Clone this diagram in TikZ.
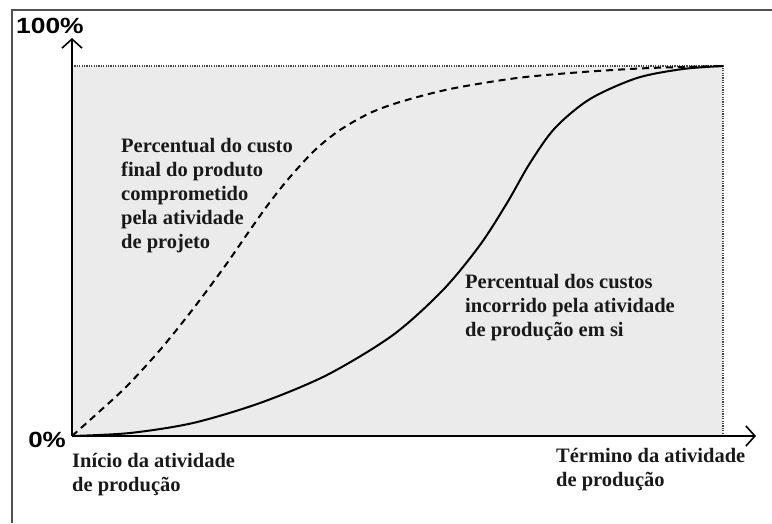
\documentclass[tikz,border=0pt]{standalone}
\usepackage{fontspec}
\setmainfont{Liberation Serif}
\newfontfamily\arialf{Liberation Sans}
\usetikzlibrary{arrows.meta}
\definecolor{areagray}{HTML}{EBEBEB}
\definecolor{framegray}{HTML}{505050}
\definecolor{dotgray}{HTML}{444444}
\begin{document}
\begin{tikzpicture}[x=1pt,y=-1pt,
  lbl/.style={font=\bfseries\fontsize{20.5}{24}\selectfont, align=left, inner sep=0pt, text=black!90},
  pct/.style={font=\arialf\bfseries\fontsize{22}{22}\selectfont, inner sep=0pt},
  axisline/.style={line width=2pt, -{Straight Barb[length=9pt,width=20pt,line width=1.6pt]}},
  guide/.style={dotgray, line width=1.2pt, dash pattern=on 1.2pt off 1.2pt},
  committed/.style={line width=2pt, dash pattern=on 7pt off 5pt},
  incurred/.style={line width=2pt}
]
\useasboundingbox (0,0) rectangle (772,523);
% frame
\draw[framegray, line width=2pt] (12,523) -- (12,10) -- (772,10);
% coordinates
\coordinate (O) at (72,436);
\coordinate (ytip) at (72,38);
\coordinate (xtip) at (756,436);
\coordinate (TL) at (72,66);
\coordinate (TR) at (723,66);
\coordinate (BR) at (723,436);
% shaded area
\fill[areagray] (O) rectangle (TR);
\draw[guide] (TL) -- (TR) -- (BR);
% curves
\draw[committed] plot[smooth] coordinates {(72,436) (100,411) (127,386) (160,350) (193,309) (225,266) (250,230) (270,202) (290,177) (315,150) (340,130) (370,113) (400,102) (450,89) (517,78) (583,72) (650,68) (723,66)};
\draw[incurred] plot[smooth] coordinates {(72,436) (130,433) (193,423) (260,403) (327,375) (393,335) (443,290) (480,245) (507,203) (530,163) (555,128) (590,99) (637,78) (683,69) (723,66)};
% axes
\draw[axisline] (O) -- (ytip);
\draw[axisline] (O) -- (xtip);
% texts
\node[pct, anchor=base west] (p100) at (16,33) {\scalebox{1.2}[1]{100\%}};
\node[pct, anchor=base east] (p0) at (66,447) {\scalebox{1.18}[1]{0\%}};
\node[lbl, anchor=north west] (design) at (121,138) {Percentual do custo\\final do produto\\comprometido\\pela atividade\\de projeto};
\node[lbl, anchor=north west] (prod) at (465,274) {Percentual dos custos\\incorrido pela atividade\\de produção em si};
\node[lbl, anchor=north west] (start) at (72,453) {Início da atividade\\de produção};
\node[lbl, anchor=north west] (end) at (556,448) {Término da atividade\\de produção};
\end{tikzpicture}
\end{document}
